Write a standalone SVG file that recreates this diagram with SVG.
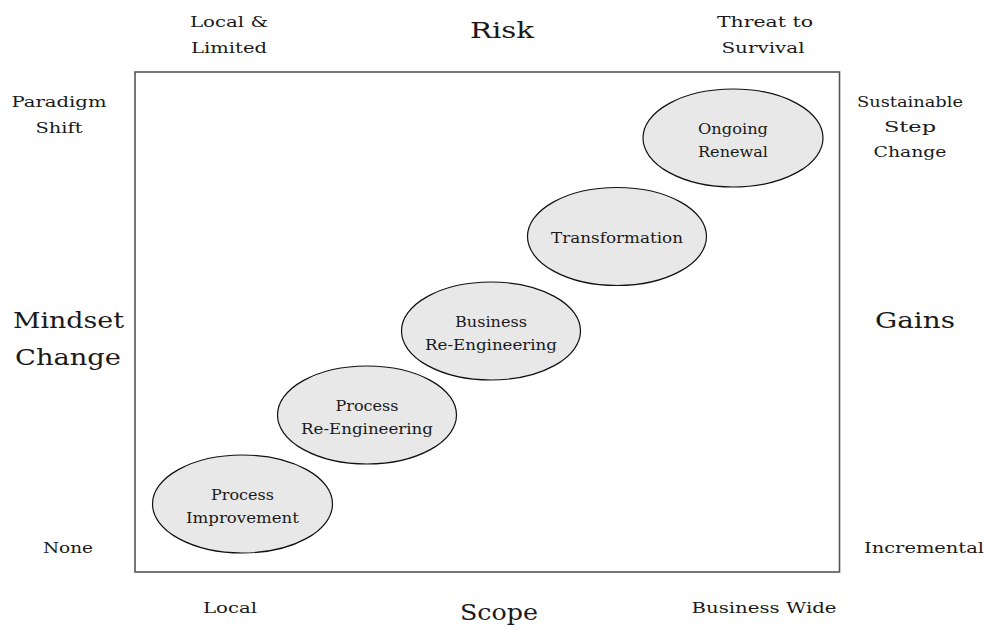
<svg xmlns="http://www.w3.org/2000/svg" width="988" height="630" viewBox="0 0 988 630">
<style>
text{font-family:"DejaVu Serif","Liberation Serif",serif;fill:#1a1a1a;text-anchor:middle}
.s{font-size:14.5px}
.l{font-size:22px}
.n{font-size:14px}
ellipse{fill:#e8e8e8;stroke:#111;stroke-width:1.2}
</style>
<rect width="988" height="630" fill="#fff"/>
<rect id="frame" x="135" y="72" width="704.5" height="500" fill="none" stroke="#555" stroke-width="1.6"/>
<g id="labels">
<text class="s" x="229" y="27" textLength="78" lengthAdjust="spacingAndGlyphs">Local &amp;</text>
<text class="s" x="229" y="53" textLength="76" lengthAdjust="spacingAndGlyphs">Limited</text>
<text class="l" x="502" y="38" textLength="64" lengthAdjust="spacingAndGlyphs">Risk</text>
<text class="s" x="765" y="27" textLength="96" lengthAdjust="spacingAndGlyphs">Threat to</text>
<text class="s" x="763" y="53" textLength="83" lengthAdjust="spacingAndGlyphs">Survival</text>
<text class="s" x="59" y="107" textLength="95" lengthAdjust="spacingAndGlyphs">Paradigm</text>
<text class="s" x="59" y="133" textLength="47" lengthAdjust="spacingAndGlyphs">Shift</text>
<text class="s" x="910" y="107" textLength="106" lengthAdjust="spacingAndGlyphs">Sustainable</text>
<text class="s" x="910" y="132" textLength="52" lengthAdjust="spacingAndGlyphs">Step</text>
<text class="s" x="910" y="157" textLength="73" lengthAdjust="spacingAndGlyphs">Change</text>
<text class="l" x="68.5" y="328" textLength="111" lengthAdjust="spacingAndGlyphs">Mindset</text>
<text class="l" x="68" y="365" textLength="106" lengthAdjust="spacingAndGlyphs">Change</text>
<text class="l" x="915" y="328" textLength="80" lengthAdjust="spacingAndGlyphs">Gains</text>
<text class="s" x="68" y="553" textLength="50" lengthAdjust="spacingAndGlyphs">None</text>
<text class="s" x="924" y="553" textLength="120" lengthAdjust="spacingAndGlyphs">Incremental</text>
<text class="s" x="230" y="613" textLength="54" lengthAdjust="spacingAndGlyphs">Local</text>
<text class="l" x="499" y="620" textLength="78" lengthAdjust="spacingAndGlyphs">Scope</text>
<text class="s" x="764" y="613" textLength="145" lengthAdjust="spacingAndGlyphs">Business Wide</text>
</g>
<g id="connectors"></g>
<g id="n1"><ellipse cx="242.5" cy="504" rx="90" ry="49"/><text class="n" x="242.5" y="500" textLength="63" lengthAdjust="spacingAndGlyphs">Process</text><text class="n" x="242.5" y="523" textLength="113" lengthAdjust="spacingAndGlyphs">Improvement</text></g>
<g id="n2"><ellipse cx="367" cy="415" rx="89.5" ry="49"/><text class="n" x="367" y="411" textLength="63" lengthAdjust="spacingAndGlyphs">Process</text><text class="n" x="367" y="434" textLength="132" lengthAdjust="spacingAndGlyphs">Re-Engineering</text></g>
<g id="n3"><ellipse cx="491" cy="331" rx="89.5" ry="49"/><text class="n" x="491" y="327" textLength="72" lengthAdjust="spacingAndGlyphs">Business</text><text class="n" x="491" y="350" textLength="132" lengthAdjust="spacingAndGlyphs">Re-Engineering</text></g>
<g id="n4"><ellipse cx="617" cy="236.5" rx="89.5" ry="49"/><text class="n" x="617" y="243" textLength="132" lengthAdjust="spacingAndGlyphs">Transformation</text></g>
<g id="n5"><ellipse cx="733" cy="138" rx="90" ry="49"/><text class="n" x="733" y="134" textLength="70" lengthAdjust="spacingAndGlyphs">Ongoing</text><text class="n" x="733" y="157" textLength="70" lengthAdjust="spacingAndGlyphs">Renewal</text></g>
</svg>
